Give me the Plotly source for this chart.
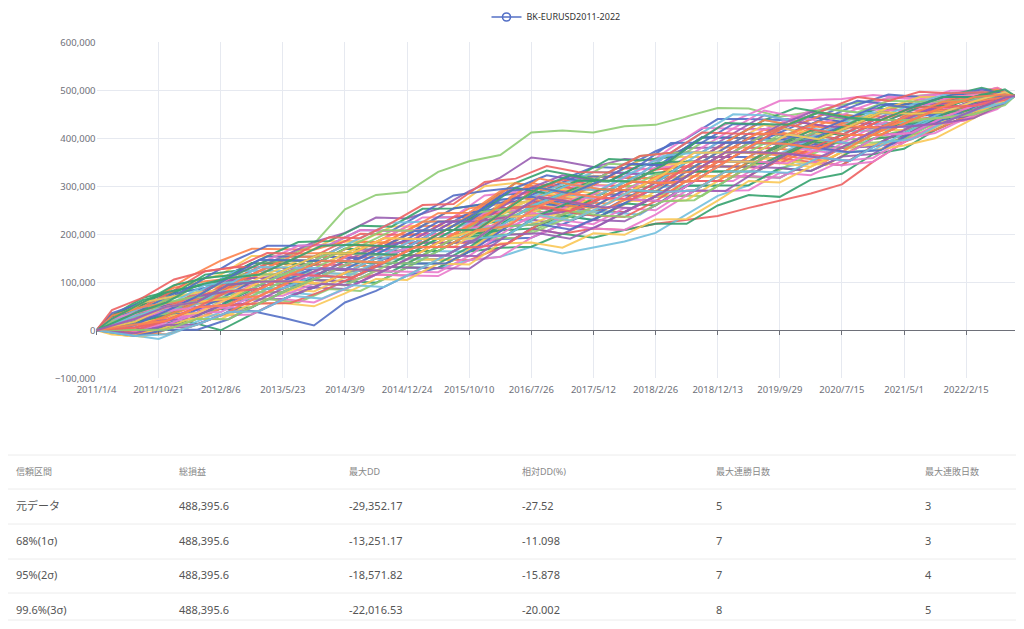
import plotly.graph_objects as go

# sample dates (every ~145 days) of the simulated equity curves
dates = ["2011-01-04", "2011-05-29", "2011-10-21", "2012-03-14", "2012-08-06", "2012-12-29",
         "2013-05-23", "2013-10-15", "2014-03-09", "2014-08-01", "2014-12-24", "2015-05-18",
         "2015-10-10", "2016-03-03", "2016-07-26", "2016-12-18", "2017-05-12", "2017-10-04",
         "2018-02-26", "2018-07-21", "2018-12-13", "2019-05-07", "2019-09-29", "2020-02-21",
         "2020-07-15", "2020-12-07", "2021-05-01", "2021-09-23", "2022-02-15", "2022-07-10",
         "2022-10-01"]
# staggered sample dates used by some runs
dates_b = ["2011-01-04", "2011-03-17", "2011-08-09", "2012-01-01", "2012-05-25", "2012-10-17",
           "2013-03-11", "2013-08-03", "2013-12-26", "2014-05-20", "2014-10-12", "2015-03-06",
           "2015-07-29", "2015-12-21", "2016-05-14", "2016-10-06", "2017-02-28", "2017-07-23",
           "2017-12-15", "2018-05-09", "2018-10-01", "2019-02-23", "2019-07-18", "2019-12-10",
           "2020-05-03", "2020-09-25", "2021-02-17", "2021-07-12", "2021-12-04", "2022-04-28",
           "2022-10-01"]
dates_c = ["2011-01-04", "2011-07-04", "2011-11-26", "2012-04-19", "2012-09-11", "2013-02-03",
           "2013-06-28", "2013-11-20", "2014-04-14", "2014-09-06", "2015-01-29", "2015-06-23",
           "2015-11-15", "2016-04-08", "2016-08-31", "2017-01-23", "2017-06-17", "2017-11-09",
           "2018-04-03", "2018-08-26", "2019-01-18", "2019-06-12", "2019-11-04", "2020-03-28",
           "2020-08-20", "2021-01-12", "2021-06-06", "2021-10-29", "2022-03-23", "2022-08-15",
           "2022-10-01"]

tick_dates = ["2011-01-04", "2011-10-21", "2012-08-06", "2013-05-23", "2014-03-09", "2014-12-24",
              "2015-10-10", "2016-07-26", "2017-05-12", "2018-02-26", "2018-12-13", "2019-09-29",
              "2020-07-15", "2021-05-01", "2022-02-15"]
tick_labels = ["2011/1/4", "2011/10/21", "2012/8/6", "2013/5/23", "2014/3/9", "2014/12/24",
               "2015/10/10", "2016/7/26", "2017/5/12", "2018/2/26", "2018/12/13", "2019/9/29",
               "2020/7/15", "2021/5/1", "2022/2/15"]

# equity curves in thousands
run_00 = [0, 15, 25, 30, 45, 40, 26, 10, 58, 82, 114, 130, 164, 190, 193, 220, 248, 264, 298, 321, 361, 361, 398, 407, 398, 430, 432, 460, 464, 488, 488.4]
run_01 = [0, 35, 60, 75, 95, 125, 150, 180, 252, 282, 288, 330, 352, 365, 412, 416, 412, 425, 428, 445, 463, 462, 445, 455, 470, 478, 486, 492, 497, 500, 488.4]
run_02 = [0, 21, 54, 65, 102, 140, 139, 137, 170, 167, 199, 200, 200, 245, 250, 276, 303, 301, 298, 341, 341, 341, 378, 370, 398, 430, 432, 460, 482, 488, 488.4]
run_03 = [0, 9, 16, 42, 45, 79, 80, 105, 102, 116, 114, 148, 146, 172, 212, 201, 212, 209, 222, 230, 238, 255, 270, 285, 304, 351, 392, 417, 446, 477, 488.4]
run_04 = [0, -9, -18, 7, 31, 48, 80, 74, 102, 99, 131, 130, 146, 153, 174, 160, 172, 185, 203, 242, 280, 302, 338, 351, 380, 399, 405, 438, 455, 483, 488.4]
run_05 = [0, 3, 6, 18, 0, 33, 65, 89, 119, 150, 182, 183, 218, 227, 231, 258, 248, 246, 279, 281, 321, 321, 318, 351, 344, 383, 418, 449, 473, 494, 488.4]
run_06 = [0, 33, 73, 112, 145, 170, 169, 168, 186, 184, 216, 218, 254, 263, 307, 295, 321, 320, 316, 361, 361, 401, 398, 426, 416, 446, 471, 471, 490, 505, 488.4]
run_07 = [0, 15, 44, 54, 88, 124, 154, 184, 203, 235, 233, 253, 290, 318, 360, 352, 340, 357, 354, 380, 381, 420, 418, 445, 434, 430, 432, 438, 446, 466, 488.4]
run_08 = [0, -3, 16, 42, 45, 79, 110, 105, 136, 167, 165, 200, 236, 245, 288, 276, 303, 338, 335, 380, 422, 450, 478, 480, 482, 490, 485, 492, 490, 505, 488.4]
run_09 = [0, 21, 35, 65, 74, 109, 110, 137, 170, 167, 199, 235, 236, 281, 288, 314, 340, 338, 373, 400, 440, 440, 438, 445, 434, 462, 458, 481, 482, 499, 488.4]
run_10 = [0, 9, 35, 54, 59, 94, 95, 89, 119, 133, 131, 165, 200, 208, 250, 258, 285, 283, 279, 301, 301, 341, 358, 389, 398, 399, 418, 427, 455, 483, 488.4]
run_11 = [0, 27, 44, 54, 88, 94, 124, 153, 186, 184, 216, 218, 254, 300, 307, 295, 321, 320, 354, 361, 361, 401, 398, 389, 416, 415, 418, 449, 455, 472, 488.4]
run_12 = [0, 3, 25, 54, 88, 94, 95, 121, 153, 150, 148, 183, 182, 227, 269, 258, 248, 246, 279, 321, 321, 321, 358, 351, 344, 383, 392, 427, 438, 472, 488.4]
run_13 = [0, 15, 44, 77, 88, 124, 124, 121, 119, 150, 182, 183, 218, 227, 231, 258, 285, 320, 316, 361, 402, 401, 438, 426, 416, 446, 471, 471, 473, 483, 488.4]
run_14 = [0, -3, 16, 18, 45, 48, 80, 105, 102, 99, 131, 130, 164, 172, 174, 201, 193, 209, 222, 222, 260, 282, 278, 314, 326, 367, 378, 417, 446, 466, 488.4]
run_15 = [0, 33, 54, 89, 102, 109, 139, 137, 136, 167, 165, 200, 200, 208, 250, 239, 267, 264, 298, 341, 341, 381, 418, 407, 434, 430, 458, 481, 482, 499, 488.4]
run_16 = [0, -9, 6, 7, 31, 64, 65, 89, 86, 116, 148, 148, 182, 190, 231, 220, 212, 246, 279, 281, 321, 361, 358, 389, 380, 383, 418, 449, 473, 494, 488.4]
run_17 = [0, 21, 35, 42, 74, 79, 110, 137, 136, 167, 199, 235, 236, 281, 288, 276, 303, 301, 335, 380, 422, 420, 418, 445, 470, 462, 485, 481, 499, 499, 488.4]
run_18 = [0, 3, 6, 30, 59, 64, 95, 89, 119, 150, 148, 183, 218, 263, 269, 258, 285, 283, 316, 321, 361, 401, 398, 389, 380, 415, 445, 449, 455, 483, 488.4]
run_19 = [0, 15, 25, 30, 31, 64, 65, 58, 86, 82, 114, 148, 146, 190, 193, 220, 248, 246, 279, 281, 280, 321, 318, 351, 380, 383, 392, 406, 438, 472, 488.4]
run_20 = [0, 39, 63, 100, 116, 155, 154, 153, 153, 184, 182, 218, 218, 263, 269, 295, 285, 283, 316, 321, 321, 361, 358, 389, 416, 415, 418, 427, 455, 483, 488.4]
run_21 = [0, 9, 16, 42, 74, 109, 139, 137, 170, 201, 199, 200, 236, 245, 250, 276, 267, 301, 298, 301, 341, 341, 338, 370, 362, 399, 432, 438, 446, 466, 488.4]
run_22 = [0, 21, 54, 65, 74, 109, 110, 105, 136, 133, 165, 165, 164, 208, 250, 239, 230, 264, 298, 301, 301, 341, 378, 407, 398, 430, 432, 460, 482, 488, 488.4]
run_23 = [0, 27, 63, 77, 116, 124, 154, 184, 186, 218, 216, 253, 254, 263, 307, 333, 321, 357, 354, 361, 402, 401, 438, 463, 452, 446, 471, 471, 490, 505, 488.4]
run_24 = [0, -3, -4, 18, 45, 79, 110, 105, 136, 133, 165, 200, 200, 245, 288, 276, 267, 301, 335, 341, 381, 381, 378, 370, 398, 399, 405, 417, 446, 477, 488.4]
run_25 = [0, 15, 44, 54, 59, 64, 95, 121, 153, 150, 182, 183, 182, 190, 231, 258, 248, 283, 279, 321, 361, 361, 398, 389, 380, 415, 445, 471, 473, 483, 488.4]
run_26 = [0, 3, 25, 30, 31, 33, 65, 58, 86, 116, 114, 113, 146, 153, 193, 220, 212, 209, 241, 281, 321, 321, 318, 351, 344, 351, 392, 427, 438, 461, 488.4]
run_27 = [0, 27, 44, 77, 88, 124, 154, 153, 153, 150, 182, 218, 254, 263, 269, 295, 321, 320, 316, 361, 402, 401, 398, 426, 452, 478, 471, 471, 490, 494, 488.4]
run_28 = [0, 9, 35, 65, 74, 79, 80, 105, 102, 133, 165, 165, 200, 245, 250, 239, 267, 301, 298, 341, 341, 341, 378, 407, 398, 399, 432, 438, 464, 488, 488.4]
run_29 = [0, -9, -13, 7, 31, 33, 65, 89, 119, 116, 148, 148, 146, 190, 231, 258, 248, 246, 279, 281, 321, 321, 358, 351, 344, 383, 392, 406, 438, 472, 488.4]
run_30 = [0, 21, 54, 89, 102, 109, 110, 137, 136, 167, 199, 200, 236, 245, 288, 314, 303, 338, 335, 341, 341, 381, 378, 407, 398, 430, 458, 460, 464, 477, 488.4]
run_31 = [0, 15, 25, 54, 88, 124, 124, 121, 119, 116, 148, 148, 182, 227, 231, 220, 248, 246, 241, 281, 321, 361, 398, 389, 416, 415, 418, 449, 473, 483, 488.4]
run_32 = [0, 33, 73, 89, 102, 140, 139, 137, 170, 167, 165, 165, 200, 208, 212, 239, 230, 264, 260, 301, 301, 302, 338, 332, 362, 399, 405, 438, 446, 477, 488.4]
run_33 = [0, 3, 25, 54, 59, 94, 124, 153, 153, 184, 182, 183, 218, 263, 307, 295, 285, 320, 316, 321, 361, 401, 438, 426, 452, 446, 445, 449, 473, 494, 488.4]
run_34 = [0, 21, 35, 65, 102, 109, 110, 105, 102, 133, 131, 130, 128, 172, 212, 201, 230, 227, 260, 301, 341, 341, 338, 332, 362, 367, 405, 438, 446, 466, 488.4]
run_35 = [0, -3, 16, 42, 45, 48, 80, 105, 136, 167, 165, 200, 200, 245, 250, 239, 267, 301, 335, 341, 381, 420, 458, 445, 434, 462, 458, 460, 464, 477, 488.4]
run_36 = [0, 12, 40, 48, 52, 86, 117, 145, 144, 141, 173, 209, 245, 254, 259, 248, 239, 273, 307, 351, 351, 351, 388, 379, 407, 438, 438, 443, 468, 480, 488.4]
run_37 = [0, 24, 40, 71, 109, 116, 117, 113, 144, 175, 207, 209, 209, 217, 259, 285, 312, 347, 344, 351, 391, 391, 388, 416, 443, 438, 464, 465, 468, 491, 488.4]
run_38 = [0, 0, 20, 48, 81, 86, 87, 81, 110, 141, 139, 174, 209, 217, 221, 248, 276, 273, 269, 271, 311, 351, 348, 341, 371, 407, 438, 443, 450, 469, 488.4]
run_39 = [0, 18, 49, 83, 123, 132, 131, 129, 161, 158, 156, 191, 191, 236, 278, 304, 294, 292, 288, 331, 331, 371, 408, 435, 425, 422, 425, 454, 477, 496, 488.4]
run_40 = [0, 6, 11, 12, 38, 71, 102, 129, 127, 158, 190, 191, 227, 272, 278, 304, 330, 329, 325, 331, 371, 371, 368, 398, 425, 454, 451, 454, 459, 474, 488.4]
run_41 = [0, 30, 68, 83, 95, 101, 102, 97, 127, 124, 122, 156, 191, 199, 240, 267, 257, 292, 325, 331, 331, 331, 368, 398, 389, 391, 425, 432, 442, 474, 488.4]
run_42 = [0, 12, 20, 48, 81, 116, 117, 145, 178, 175, 207, 244, 245, 290, 297, 285, 276, 310, 307, 311, 311, 351, 388, 416, 407, 407, 438, 465, 486, 502, 488.4]
run_43 = [0, 18, 30, 59, 66, 101, 131, 129, 127, 124, 156, 191, 227, 236, 278, 267, 294, 329, 325, 370, 371, 410, 448, 435, 425, 422, 451, 454, 477, 485, 488.4]
run_44 = [0, -6, 11, 36, 38, 71, 72, 97, 94, 124, 122, 121, 155, 199, 240, 229, 221, 255, 250, 291, 290, 292, 328, 323, 353, 359, 398, 411, 442, 463, 488.4]
run_45 = [0, 36, 58, 71, 109, 147, 176, 176, 178, 209, 207, 244, 281, 290, 297, 323, 312, 310, 344, 390, 391, 430, 428, 416, 443, 470, 491, 486, 486, 502, 488.4]
run_46 = [0, 6, 30, 59, 66, 71, 102, 97, 94, 124, 156, 191, 191, 199, 202, 229, 257, 292, 325, 331, 371, 371, 408, 398, 389, 391, 398, 432, 459, 485, 488.4]
run_47 = [0, 24, 58, 71, 81, 86, 117, 145, 144, 175, 173, 174, 173, 217, 259, 285, 276, 273, 269, 311, 351, 391, 428, 416, 407, 438, 464, 486, 486, 491, 488.4]
run_48 = [0, 12, 40, 71, 81, 116, 146, 145, 178, 175, 173, 174, 209, 254, 259, 248, 239, 236, 269, 311, 351, 351, 348, 379, 407, 438, 438, 443, 450, 480, 488.4]
run_49 = [0, 18, 49, 59, 95, 101, 102, 129, 161, 192, 224, 226, 227, 236, 240, 267, 294, 292, 325, 370, 412, 450, 448, 435, 461, 454, 451, 476, 494, 496, 488.4]
run_50 = [0, 0, 1, 24, 52, 86, 87, 113, 144, 141, 139, 139, 173, 217, 259, 285, 312, 310, 307, 351, 351, 351, 388, 416, 407, 407, 411, 443, 468, 491, 488.4]
run_51 = [0, 30, 49, 59, 66, 101, 131, 160, 161, 158, 190, 226, 227, 236, 278, 267, 257, 255, 288, 291, 331, 371, 368, 360, 353, 391, 425, 454, 459, 474, 488.4]
run_52 = [0, 12, 20, 24, 52, 56, 87, 113, 144, 175, 173, 209, 209, 254, 297, 323, 312, 347, 344, 351, 351, 391, 428, 454, 443, 438, 438, 465, 468, 480, 488.4]
run_53 = [0, 24, 40, 48, 81, 116, 146, 176, 178, 209, 207, 209, 209, 217, 221, 248, 276, 273, 307, 311, 311, 311, 348, 379, 371, 407, 438, 465, 486, 491, 488.4]
run_54 = [0, 6, 30, 36, 66, 101, 102, 129, 127, 158, 190, 226, 227, 272, 278, 267, 257, 292, 288, 331, 371, 410, 408, 398, 425, 422, 425, 432, 459, 485, 488.4]
run_55 = [0, 18, 30, 36, 66, 71, 102, 129, 161, 158, 156, 156, 191, 236, 240, 267, 294, 329, 363, 370, 371, 371, 408, 435, 461, 454, 478, 476, 477, 485, 488.4]
run_56 = [0, -12, 1, 24, 23, 56, 57, 50, 77, 107, 105, 139, 137, 181, 183, 172, 202, 199, 231, 232, 270, 311, 308, 341, 371, 375, 385, 400, 433, 469, 488.4]
run_57 = [0, 42, 68, 106, 123, 132, 161, 160, 194, 192, 224, 261, 263, 309, 316, 342, 330, 329, 363, 370, 412, 410, 408, 435, 461, 486, 478, 497, 494, 496, 488.4]
run_58 = [0, 12, 40, 48, 81, 86, 87, 113, 110, 141, 173, 209, 209, 217, 259, 285, 276, 310, 307, 351, 391, 391, 388, 379, 371, 375, 411, 443, 450, 480, 488.4]
run_59 = [0, 24, 58, 94, 109, 116, 146, 145, 144, 141, 139, 174, 209, 254, 297, 285, 312, 310, 344, 351, 351, 351, 348, 379, 407, 438, 438, 465, 468, 491, 488.4]
run_60 = [0, -6, -8, 12, 38, 71, 102, 97, 127, 158, 156, 191, 227, 236, 278, 267, 257, 292, 288, 291, 331, 371, 368, 398, 425, 422, 451, 454, 459, 485, 488.4]
run_61 = [0, 18, 40, 71, 81, 86, 117, 113, 144, 175, 190, 226, 227, 236, 240, 248, 276, 310, 307, 351, 391, 391, 388, 398, 389, 422, 451, 465, 468, 491, 488.4]
run_62 = [0, 6, 11, 36, 66, 101, 131, 129, 161, 158, 173, 174, 173, 217, 259, 285, 276, 273, 307, 351, 351, 351, 348, 379, 371, 407, 411, 443, 468, 480, 488.4]
run_63 = [0, -12, 1, 1, 23, 56, 87, 113, 110, 141, 139, 139, 173, 217, 221, 210, 239, 273, 269, 311, 351, 351, 388, 379, 371, 375, 411, 443, 450, 474, 488.4]
run_64 = [0, 24, 58, 71, 109, 116, 117, 145, 178, 209, 207, 209, 245, 254, 259, 285, 312, 310, 307, 311, 351, 391, 428, 454, 443, 438, 438, 465, 486, 491, 488.4]
run_65 = [0, 12, 30, 36, 66, 101, 102, 97, 127, 124, 156, 191, 209, 254, 297, 285, 276, 310, 344, 351, 351, 351, 388, 416, 407, 407, 438, 443, 450, 480, 488.4]
run_66 = [0, 0, 20, 48, 52, 56, 57, 81, 110, 141, 173, 174, 173, 181, 221, 248, 276, 310, 307, 311, 311, 351, 388, 379, 407, 438, 464, 465, 468, 485, 488.4]
run_67 = [0, 30, 49, 59, 95, 132, 131, 129, 127, 158, 190, 191, 191, 236, 278, 304, 294, 329, 363, 370, 371, 371, 408, 398, 389, 422, 425, 454, 477, 496, 488.4]
run_68 = [0, 18, 30, 59, 95, 101, 131, 160, 161, 158, 156, 156, 191, 199, 240, 267, 294, 292, 288, 331, 331, 331, 368, 398, 425, 454, 451, 454, 459, 485, 488.4]
run_69 = [0, 6, 30, 59, 66, 71, 102, 129, 161, 192, 190, 191, 227, 272, 316, 304, 294, 292, 325, 331, 371, 410, 408, 435, 425, 422, 451, 476, 477, 485, 488.4]
run_70 = [0, -6, 11, 12, 38, 40, 72, 97, 94, 124, 156, 156, 155, 199, 202, 191, 221, 255, 288, 291, 290, 331, 368, 360, 353, 391, 425, 432, 442, 474, 488.4]
run_71 = [0, 24, 40, 48, 52, 86, 117, 113, 144, 141, 173, 209, 209, 217, 259, 285, 276, 273, 269, 311, 351, 391, 388, 416, 407, 407, 411, 443, 468, 480, 488.4]
run_72 = [0, 12, 40, 71, 109, 147, 146, 145, 144, 175, 207, 209, 245, 290, 297, 285, 312, 347, 344, 390, 391, 391, 388, 416, 443, 470, 464, 486, 486, 491, 488.4]
run_73 = [0, 0, 1, 24, 23, 56, 87, 113, 144, 141, 139, 174, 209, 217, 221, 248, 239, 236, 269, 271, 311, 351, 388, 416, 407, 407, 438, 443, 450, 469, 488.4]
run_74 = [0, 18, 49, 59, 66, 101, 131, 160, 161, 192, 190, 191, 191, 236, 240, 229, 257, 292, 325, 370, 371, 371, 408, 398, 425, 454, 451, 454, 477, 496, 488.4]
run_75 = [0, 6, 20, 48, 81, 86, 117, 113, 110, 141, 173, 209, 209, 254, 259, 248, 276, 273, 307, 351, 351, 391, 428, 416, 407, 407, 438, 465, 468, 480, 488.4]
run_76 = [0, -12, -8, 12, 38, 40, 72, 66, 94, 90, 122, 156, 191, 199, 240, 229, 257, 292, 288, 291, 331, 331, 328, 360, 353, 391, 398, 432, 459, 474, 488.4]
run_77 = [0, 36, 58, 94, 109, 116, 146, 176, 178, 175, 173, 209, 209, 254, 297, 323, 312, 310, 344, 390, 432, 430, 428, 454, 443, 438, 464, 486, 486, 502, 488.4]
run_78 = [0, 12, 20, 48, 52, 86, 117, 145, 144, 141, 173, 174, 209, 217, 259, 285, 276, 310, 307, 311, 351, 391, 388, 379, 407, 407, 438, 465, 486, 491, 488.4]
run_79 = [0, 24, 49, 59, 95, 101, 102, 129, 127, 124, 156, 156, 191, 236, 278, 267, 257, 255, 288, 331, 371, 371, 368, 360, 389, 422, 425, 432, 459, 485, 488.4]

runs = [run_00, run_01, run_02, run_03, run_04, run_05, run_06, run_07, run_08, run_09,
        run_10, run_11, run_12, run_13, run_14, run_15, run_16, run_17, run_18, run_19,
        run_20, run_21, run_22, run_23, run_24, run_25, run_26, run_27, run_28, run_29,
        run_30, run_31, run_32, run_33, run_34, run_35, run_36, run_37, run_38, run_39,
        run_40, run_41, run_42, run_43, run_44, run_45, run_46, run_47, run_48, run_49,
        run_50, run_51, run_52, run_53, run_54, run_55, run_56, run_57, run_58, run_59,
        run_60, run_61, run_62, run_63, run_64, run_65, run_66, run_67, run_68, run_69,
        run_70, run_71, run_72, run_73, run_74, run_75, run_76, run_77, run_78, run_79]

series_name = "BK-EURUSD2011-2022"

# summary table
table_header = ["信頼区間", "総損益", "最大DD", "相対DD(%)", "最大連勝日数", "最大連敗日数"]
conf_levels = ["元データ", "68%(1σ)", "95%(2σ)", "99.6%(3σ)"]
total_pl = ["488,395.6", "488,395.6", "488,395.6", "488,395.6"]
max_dd = ["-29,352.17", "-13,251.17", "-18,571.82", "-22,016.53"]
rel_dd = ["-27.52", "-11.098", "-15.878", "-20.002"]
max_win_days = ["5", "7", "7", "8"]
max_loss_days = ["3", "3", "4", "5"]

palette = ["#5470c6", "#91cc75", "#fac858", "#ee6666", "#73c0de",
           "#3ba272", "#fc8452", "#9a60b4", "#ea7ccc"]

# page body adds an 8px margin, so the figure is laid out 8px up/left of the reference
W, H = 1008, 613
OFF = 8
font_family = "Noto Sans, Noto Sans CJK JP, sans-serif"
axis_grey = "#6e7079"


def px_x(x):
	return (x - OFF) / W


def px_y(y):
	return 1 - (y - OFF) / H


fig = go.Figure()

for i, run in enumerate(runs):
	if i >= 60:
		xs = dates_c
	elif i >= 10 and i % 2 == 1:
		xs = dates_b
	else:
		xs = dates
	fig.add_trace(go.Scatter(
		x=xs,
		y=[v * 1000 for v in run],
		mode="lines",
		line=dict(color=palette[i % len(palette)], width=2),
		opacity=0.9,
		showlegend=False,
		hoverinfo="skip"
	))

# legend entry only (line with hollow circle like the original)
fig.add_trace(go.Scatter(
	x=[None], y=[None],
	mode="lines+markers",
	name=series_name,
	line=dict(color="#5470c6", width=1.6),
	marker=dict(symbol="circle-open", size=8, color="#5470c6", line=dict(width=1.6))
))

# helper axis for the category axis line sitting on zero
fig.add_trace(go.Scatter(x=[dates[0]], y=[None], xaxis="x2", showlegend=False, hoverinfo="skip"))

fig.add_trace(go.Table(
	domain=dict(x=[0, 1], y=[0, px_y(460)]),
	columnwidth=[163, 170, 173, 194, 209, 99],
	header=dict(
		values=table_header,
		align="left",
		fill_color="white",
		line_color="white",
		height=34,
		font=dict(family=font_family, size=9, color="#888")
	),
	cells=dict(
		values=[conf_levels, total_pl, max_dd, rel_dd, max_win_days, max_loss_days],
		align="left",
		fill_color="white",
		line_color="white",
		height=34.5,
		font=dict(family=font_family, size=11, color="#555")
	)
))

# horizontal table rules
for py in [455, 489, 524, 559, 593, 620]:
	fig.add_shape(type="line", xref="paper", yref="paper",
		x0=0, x1=1, y0=px_y(py), y1=px_y(py),
		line=dict(color="#ececec", width=1))

fig.update_layout(
	width=W, height=H,
	margin=dict(l=0, r=0, t=0, b=0, autoexpand=False),
	template="none",
	paper_bgcolor="white",
	plot_bgcolor="white",
	font=dict(family=font_family, size=10, color=axis_grey),
	showlegend=True,
	legend=dict(
		orientation="h", x=px_x(556), xanchor="center", y=1.009, yanchor="top",
		itemwidth=30, font=dict(size=9, color="#333"), bgcolor="rgba(0,0,0,0)"
	),
	xaxis=dict(
		domain=[px_x(96.5), px_x(1015)], type="date", range=[dates[0], dates[-1]],
		tickvals=tick_dates, ticktext=tick_labels,
		showgrid=True, gridcolor="#e6e9f0", gridwidth=1,
		showline=False, ticks="", zeroline=False, ticklabelstandoff=4,
		tickfont=dict(size=9.5, color=axis_grey), automargin=False
	),
	xaxis2=dict(
		overlaying="x", anchor="free", position=px_y(330.3),
		type="date", range=[dates[0], dates[-1]],
		tickvals=tick_dates, showticklabels=False,
		ticks="outside", ticklen=4, tickcolor=axis_grey,
		showline=False, showgrid=False, zeroline=False
	),
	yaxis=dict(
		domain=[px_y(378.3), px_y(42.3)], range=[-100000, 600000], dtick=100000,
		tickformat=",", showgrid=True, gridcolor="#e6e9f0", gridwidth=1,
		zeroline=True, zerolinecolor=axis_grey, zerolinewidth=1,
		showline=False, ticks="", tickfont=dict(size=9.5, color=axis_grey),
		automargin=False
	)
)

fig.write_html("out.html")
